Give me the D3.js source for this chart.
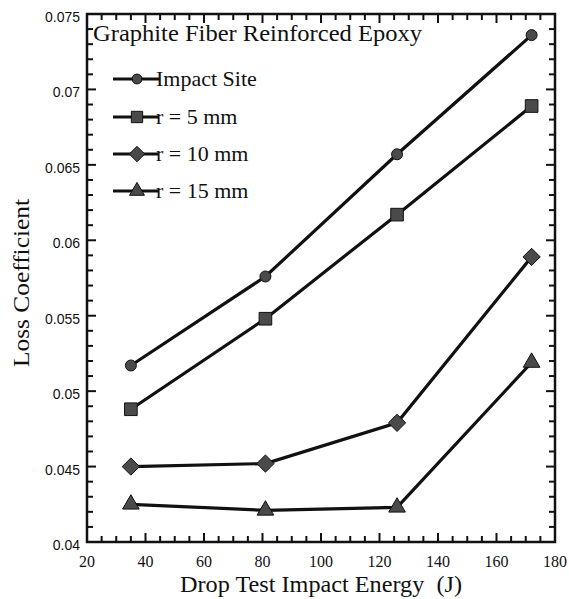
<!DOCTYPE html>
<html>
<head>
<meta charset="utf-8">
<script src="https://cdn.jsdelivr.net/npm/d3@7.9.0/dist/d3.min.js"></script>
<style>
  body { margin: 0; background: #fff; }
  text { fill: #111; }
</style>
</head>
<body>
<svg id="chart" width="569" height="599"></svg>
<script>
// data
const energies = [35, 81, 126, 172];
const impactSite = [0.0517, 0.0576, 0.0657, 0.0736];
const r5mm = [0.0488, 0.0548, 0.0617, 0.0689];
const r10mm = [0.0450, 0.0452, 0.0479, 0.0589];
const r15mm = [0.0425, 0.0421, 0.0423, 0.0519];
const seriesNames = ['Impact Site', 'r = 5 mm', 'r = 10 mm', 'r = 15 mm'];
const xTicks = [20, 40, 60, 80, 100, 120, 140, 160, 180];
const yTicks = [0.04, 0.045, 0.05, 0.055, 0.06, 0.065, 0.07, 0.075];
const yTickLabels = ['0.04', '0.045', '0.05', '0.055', '0.06', '0.065', '0.07', '0.075'];

const series = [impactSite, r5mm, r10mm, r15mm];
const symbols = [d3.symbolCircle, d3.symbolSquare, d3.symbolDiamond2, d3.symbolTriangle];
const symSizes = [95, 160, 190, 120];

const margin = { top: 14, right: 14, bottom: 57, left: 87 };
const W = 569, H = 599;
const w = W - margin.left - margin.right;
const h = H - margin.top - margin.bottom;

const svg = d3.select('#chart');
const g = svg.append('g').attr('transform', `translate(${margin.left},${margin.top})`);

const x = d3.scaleLinear().domain([20, 180]).range([0, w]);
const y = d3.scaleLinear().domain([0.04, 0.075]).range([h, 0]);

// minor ticks every 5 J and every 0.001
const xMinor = d3.range(20, 180.1, 5);
const yMinor = d3.range(0, 36).map((i) => 0.04 + i * 0.001);

const tickG = g.append('g').attr('stroke', '#111').attr('stroke-width', 2);
function tick(x1, y1, x2, y2) {
  tickG.append('line').attr('x1', x1).attr('y1', y1).attr('x2', x2).attr('y2', y2);
}
xMinor.forEach((v) => {
  const major = xTicks.includes(v);
  const len = major ? 9 : 6;
  tick(x(v), h, x(v), h - len);
  tick(x(v), 0, x(v), len);
});
yMinor.forEach((v, i) => {
  const major = i % 5 === 0;
  const len = major ? 9 : 6;
  tick(0, y(v), len, y(v));
  tick(w, y(v), w - len, y(v));
});

// frame
g.append('rect')
  .attr('width', w).attr('height', h)
  .attr('fill', 'none').attr('stroke', '#111').attr('stroke-width', 2.5);

// tick labels
g.selectAll('.xl').data(xTicks).join('text')
  .attr('class', 'xl')
  .attr('x', (d) => x(d))
  .attr('y', h + 25)
  .attr('text-anchor', 'middle')
  .style('font-family', 'Liberation Serif, serif')
  .style('font-size', '16px')
  .text((d) => d);

g.selectAll('.yl').data(yTicks).join('text')
  .attr('class', 'yl')
  .attr('x', -7)
  .attr('y', (d) => y(d) + 8)
  .attr('text-anchor', 'end')
  .style('font-family', 'Liberation Sans, sans-serif')
  .style('font-size', '14px')
  .text((d, i) => yTickLabels[i]);

// axis titles
svg.append('text')
  .attr('x', 321)
  .attr('y', 592)
  .attr('text-anchor', 'middle')
  .attr('xml:space', 'preserve')
  .attr('textLength', 282)
  .attr('lengthAdjust', 'spacingAndGlyphs')
  .style('font-family', 'Liberation Serif, serif')
  .style('font-size', '23px')
  .text('Drop Test Impact Energy  (J)');

svg.append('text')
  .attr('transform', 'translate(29,283)rotate(-90)')
  .attr('text-anchor', 'middle')
  .attr('textLength', 168)
  .attr('lengthAdjust', 'spacingAndGlyphs')
  .style('font-family', 'Liberation Serif, serif')
  .style('font-size', '23px')
  .text('Loss Coefficient');

// lines and markers
const line = d3.line().x((d, i) => x(energies[i])).y((d) => y(d));
series.forEach((vals, s) => {
  g.append('path')
    .datum(vals)
    .attr('d', line)
    .attr('fill', 'none')
    .attr('stroke', '#111')
    .attr('stroke-width', 3.2);
  g.selectAll(`.m${s}`).data(vals).join('path')
    .attr('class', `m${s}`)
    .attr('transform', (d, i) => `translate(${x(energies[i])},${y(d)})`)
    .attr('d', d3.symbol().type(symbols[s]).size(symSizes[s]))
    .attr('fill', '#4a4a4a')
    .attr('stroke', '#111')
    .attr('stroke-width', 1);
});

// legend
const leg = g.append('g').attr('transform', 'translate(6,0)');
leg.append('text')
  .attr('x', 0).attr('y', 27)
  .attr('textLength', 329)
  .attr('lengthAdjust', 'spacingAndGlyphs')
  .style('font-family', 'Liberation Serif, serif')
  .style('font-size', '23px')
  .text('Graphite Fiber Reinforced Epoxy');

const legY = [65, 103, 140, 177];
seriesNames.forEach((name, s) => {
  const row = leg.append('g').attr('transform', `translate(0,${legY[s]})`);
  row.append('line')
    .attr('x1', 20).attr('x2', 66)
    .attr('stroke', '#111').attr('stroke-width', 3);
  row.append('path')
    .attr('transform', 'translate(44,0)')
    .attr('d', d3.symbol().type(symbols[s]).size(symSizes[s] * 0.8))
    .attr('fill', '#4a4a4a').attr('stroke', '#111');
  row.append('text')
    .attr('x', 63).attr('y', 7)
    .style('font-family', 'Liberation Serif, serif')
    .style('font-size', '22px')
    .text(name);
});
</script>
</body>
</html>
